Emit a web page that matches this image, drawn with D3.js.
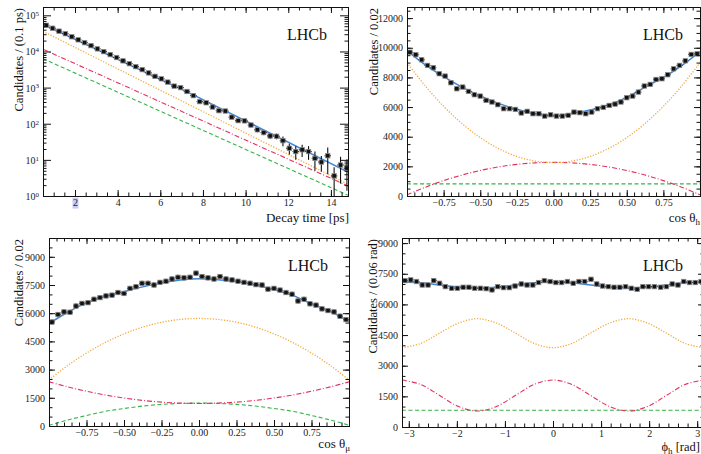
<!DOCTYPE html>
<html>
<head>
<meta charset="utf-8">
<script src="https://cdn.jsdelivr.net/npm/d3@7"></script>
<style>
  html, body { margin: 0; padding: 0; background: #fff; }
  svg { display: block; }
  svg text { font-family: "Liberation Serif", "Times New Roman", serif; }
</style>
</head>
<body>
<svg id="chart" width="701" height="454"></svg>
<script>
// ---------------- decay time ----------------
const timeCenters = [0.65, 0.95, 1.25, 1.55, 1.85, 2.15, 2.45, 2.75, 3.05, 3.35, 3.65, 3.95, 4.25, 4.55, 4.85, 5.15,
  5.45, 5.75, 6.05, 6.35, 6.65, 6.95, 7.25, 7.55, 7.85, 8.15, 8.45, 8.75, 9.05, 9.35, 9.65, 9.95,
  10.25, 10.55, 10.85, 11.15, 11.45, 11.75, 12.05, 12.35, 12.65, 12.95, 13.25, 13.55, 13.85, 14.15, 14.45, 14.75];
const timeCounts = [53000, 44000, 36500, 31000, 25500, 21000, 17500, 14500, 11800, 9900, 8200, 6800, 5500, 4600, 3800, 3150,
  2550, 2050, 1750, 1420, 1100, 1000, 780, 600, 410, 380, 290, 230, 225, 152, 122, 120,
  92, 68, 57, 46, 45, 34, 21, 17, 19, 17, 11, 8.7, 13, 3.6, 7.2, 5.9];
const timeErrors = [280, 250, 230, 210, 190, 175, 160, 145, 130, 120, 110, 100, 90, 82, 75, 68,
  61, 55, 50, 45, 40, 38, 34, 29, 24, 23, 20, 18, 18, 15, 13, 13,
  12, 10, 9, 8, 8, 10, 7, 7, 7, 7, 6, 4, 9, 2.6, 5, 4.5];
const timeFitKnots = [0.5, 7.5, 14.8];
const timeFitTotal = [57000, 650, 4.6];
const timeCompKnots = [0.5, 14.8];
const timeCompOrange = [36000, 2.1];
const timeCompRed = [11500, 1.9];
const timeCompGreen = [6300, 1.05];
const timeMajorTicks = [2, 4, 6, 8, 10, 12, 14];
const timeDecades = [1, 10, 100, 1000, 10000, 100000];

// ---------------- cos theta_h ----------------
const cosCenters = [-0.98, -0.94, -0.90, -0.86, -0.82, -0.78, -0.74, -0.70, -0.66, -0.62, -0.58, -0.54, -0.50,
  -0.46, -0.42, -0.38, -0.34, -0.30, -0.26, -0.22, -0.18, -0.14, -0.10, -0.06, -0.02,
  0.02, 0.06, 0.10, 0.14, 0.18, 0.22, 0.26, 0.30, 0.34, 0.38, 0.42, 0.46, 0.50,
  0.54, 0.58, 0.62, 0.66, 0.70, 0.74, 0.78, 0.82, 0.86, 0.90, 0.94, 0.98];
const cosHCounts = [9700, 9530, 9190, 8810, 8650, 8250, 8090, 7640, 7235, 7350, 7055, 6830, 6740,
  6450, 6340, 6160, 5890, 5890, 5840, 5600, 5710, 5550, 5550, 5390, 5480,
  5390, 5390, 5440, 5660, 5620, 5550, 5660, 5890, 5980, 6110, 6200, 6340, 6630,
  6740, 7010, 7420, 7530, 7860, 7910, 8180, 8580, 8810, 9120, 9550, 9590];
const cosKnots = [-1, -0.875, -0.75, -0.625, -0.5, -0.375, -0.25, -0.125, 0, 0.125, 0.25, 0.375, 0.5, 0.625, 0.75, 0.875, 1];
const cosHTotal = [9800, 8850, 8050, 7350, 6750, 6250, 5850, 5550, 5420, 5560, 5800, 6150, 6650, 7350, 8000, 8800, 9750];
const cosHOrange = [9000, 7420, 6050, 4890, 3940, 3200, 2670, 2355, 2250, 2355, 2670, 3200, 3940, 4890, 6050, 7420, 9000];
const cosHRed = [80, 593, 1038, 1414, 1722, 1962, 2133, 2236, 2270, 2236, 2133, 1962, 1722, 1414, 1038, 593, 80];
const cosHGreen = [820, 820, 820, 820, 820, 820, 820, 820, 820, 820, 820, 820, 820, 820, 820, 820, 820];

// ---------------- cos theta_mu ----------------
const cosMuCounts = [5530, 5930, 6070, 6050, 6380, 6520, 6560, 6740, 6830, 6920, 6960, 7100, 7050,
  7320, 7410, 7590, 7590, 7500, 7640, 7700, 7820, 7910, 7880, 7910, 8130,
  7950, 7880, 7820, 7950, 7820, 7770, 7700, 7640, 7590, 7520, 7500, 7280, 7320,
  7230, 7100, 7010, 6650, 6740, 6500, 6430, 6230, 6140, 6070, 5840, 5660];
const cosMuTotal = [5450, 6050, 6550, 6900, 7150, 7400, 7600, 7760, 7830, 7780, 7680, 7500, 7250, 6950, 6500, 6100, 5550];
const cosMuOrange = [2450, 3220, 3880, 4440, 4900, 5260, 5520, 5670, 5720, 5670, 5520, 5260, 4900, 4440, 3880, 3220, 2450];
const cosMuRed = [2350, 2080, 1850, 1650, 1490, 1360, 1270, 1220, 1200, 1220, 1270, 1360, 1490, 1650, 1850, 2080, 2350];
const cosMuGreen = [40, 320, 560, 780, 930, 1060, 1150, 1200, 1220, 1200, 1150, 1060, 930, 780, 560, 320, 40];

// ---------------- phi_h ----------------
const phiCenters = [-3.08, -2.96, -2.84, -2.72, -2.60, -2.48, -2.36, -2.24, -2.11, -1.99, -1.87, -1.75, -1.63,
  -1.51, -1.39, -1.27, -1.15, -1.03, -0.91, -0.79, -0.66, -0.54, -0.42, -0.30, -0.18, -0.06,
  0.06, 0.18, 0.30, 0.42, 0.54, 0.66, 0.79, 0.91, 1.03, 1.15, 1.27, 1.39, 1.51,
  1.63, 1.75, 1.87, 1.99, 2.11, 2.24, 2.36, 2.48, 2.60, 2.72, 2.84, 2.96, 3.08];
const phiCounts = [7165, 7200, 7120, 6950, 6950, 7165, 7035, 6870, 6790, 6790, 6840, 6840, 6790,
  6790, 6770, 6710, 6870, 6820, 6820, 6900, 7000, 6950, 6950, 7070, 7165, 7120,
  7070, 7070, 7120, 7035, 7120, 7120, 7230, 7000, 6900, 6870, 6840, 6840, 6870,
  6790, 6740, 6870, 6870, 6870, 6840, 6870, 7000, 6950, 7120, 7070, 7070, 7120];
const phiKnots = [-3.1416, -2.7489, -2.3562, -1.9635, -1.5708, -1.1781, -0.7854, -0.3927, 0,
  0.3927, 0.7854, 1.1781, 1.5708, 1.9635, 2.3562, 2.7489, 3.1416];
const phiTotal = [7100, 7060, 6950, 6840, 6800, 6840, 6950, 7060, 7100, 7060, 6950, 6840, 6800, 6840, 6950, 7060, 7100];
const phiOrange = [3880, 4090, 4600, 5090, 5300, 5090, 4600, 4090, 3880, 4090, 4600, 5090, 5300, 5090, 4600, 4090, 3880];
const phiRed = [2300, 2080, 1540, 1000, 780, 1000, 1540, 2080, 2300, 2080, 1540, 1000, 780, 1000, 1540, 2080, 2300];
const phiGreen = [820, 820, 820, 820, 820, 820, 820, 820, 820, 820, 820, 820, 820, 820, 820, 820, 820];

const COLORS = { total: "#3d86d8", orange: "#f2a93b", red: "#e2315d", green: "#35b448" };
const SERIF = "'Liberation Serif', 'Times New Roman', serif";

const svg = d3.select("#chart");
let clipId = 0;

function drawPanel(cfg) {
  const g = svg.append("g");
  const x = d3.scaleLinear().domain(cfg.xDomain).range([cfg.left, cfg.right]);
  const y = (cfg.log ? d3.scaleLog() : d3.scaleLinear()).domain(cfg.yDomain).range([cfg.bottom, cfg.top]);

  const cid = "clip" + (clipId++);
  g.append("clipPath").attr("id", cid).append("rect")
    .attr("x", cfg.left).attr("y", cfg.top)
    .attr("width", cfg.right - cfg.left).attr("height", cfg.bottom - cfg.top);
  const plot = g.append("g").attr("clip-path", `url(#${cid})`);

  // model curves
  const line = d3.line().x(d => x(d[0])).y(d => y(d[1]))
    .curve(cfg.log ? d3.curveLinear : d3.curveCatmullRom.alpha(0.5));
  const comps = [
    { v: cfg.green, knots: cfg.compKnots || cfg.knots, color: COLORS.green, dash: "4,2.5", w: 1.1 },
    { v: cfg.red, knots: cfg.compKnots || cfg.knots, color: COLORS.red, dash: "5,2,1,2", w: 1.1 },
    { v: cfg.orange, knots: cfg.compKnots || cfg.knots, color: COLORS.orange, dash: "1.2,1.6", w: 1.3 },
    { v: cfg.total, knots: cfg.knots, color: COLORS.total, dash: null, w: 1.5 }
  ];
  comps.forEach(c => {
    plot.append("path")
      .attr("d", line(c.knots.map((k, i) => [k, c.v[i]])))
      .attr("fill", "none").attr("stroke", c.color).attr("stroke-width", c.w)
      .attr("stroke-dasharray", c.dash);
  });

  // data points with error bars
  const pts = plot.append("g");
  const lo = cfg.yDomain[0];
  cfg.centers.forEach((c, i) => {
    const v = cfg.counts[i];
    const e = cfg.errors ? cfg.errors[i] : cfg.err;
    const px = x(c), py = y(v);
    pts.append("line").attr("x1", px).attr("x2", px)
      .attr("y1", y(Math.max(v - e, cfg.log ? lo * 0.5 : 0))).attr("y2", y(v + e))
      .attr("stroke", "#111").attr("stroke-width", 1.1);
    pts.append("line").attr("x1", x(c - cfg.halfWidth)).attr("x2", x(c + cfg.halfWidth))
      .attr("y1", py).attr("y2", py)
      .attr("stroke", "#111").attr("stroke-width", 1.1);
    pts.append("rect").attr("x", px - 2.2).attr("y", py - 2.2).attr("width", 4.4).attr("height", 4.4)
      .attr("fill", "#111").attr("stroke", "#8a8a8a").attr("stroke-width", 0.8);
  });

  // axes: ticks point inward on all four sides
  const MAJ = 6, MIN = 3.5;
  const tickStyle = sel => {
    sel.attr("font-family", null).style("font-family", SERIF);
    sel.select(".domain").remove();
    sel.selectAll("line").attr("stroke", "#111");
    sel.selectAll("text").style("font-family", SERIF)
      .attr("font-size", 10).attr("fill", "#222");
  };
  const add = (axis, tx, ty) => g.append("g").attr("transform", `translate(${tx},${ty})`).call(axis).call(tickStyle);

  add(d3.axisBottom(x).tickValues(cfg.xMinor).tickSize(-MIN).tickFormat(""), 0, cfg.bottom);
  add(d3.axisTop(x).tickValues(cfg.xMinor).tickSize(-MIN).tickFormat(""), 0, cfg.top);
  add(d3.axisTop(x).tickValues(cfg.xMajor).tickSize(-MAJ).tickFormat(""), 0, cfg.top);
  const xb = add(d3.axisBottom(x).tickValues(cfg.xMajor).tickSizeInner(-MAJ).tickSizeOuter(0)
    .tickPadding(3).tickFormat(cfg.xFormat), 0, cfg.bottom);

  add(d3.axisLeft(y).tickValues(cfg.yMinor).tickSize(-MIN).tickFormat(""), cfg.left, 0);
  add(d3.axisRight(y).tickValues(cfg.yMinor).tickSize(-MIN).tickFormat(""), cfg.right, 0);
  add(d3.axisRight(y).tickValues(cfg.yMajor).tickSize(-(cfg.log ? 8 : MAJ)).tickFormat(""), cfg.right, 0);
  const yl = add(d3.axisLeft(y).tickValues(cfg.yMajor).tickSizeInner(-(cfg.log ? 8 : MAJ)).tickSizeOuter(0)
    .tickPadding(4).tickFormat(cfg.log ? "" : cfg.yFormat), cfg.left, 0);

  if (cfg.log) {
    // powers of ten with superscript exponents
    yl.selectAll(".tick").each(function (d) {
      const t = d3.select(this).select("text").attr("dy", "0.35em");
      t.append("tspan").text("10");
      t.append("tspan").attr("dy", "-0.45em").attr("font-size", 7).text(Math.round(Math.log10(d)));
    });
  }

  if (cfg.highlightTick !== undefined) {
    xb.selectAll(".tick").filter(d => d === cfg.highlightTick).each(function () {
      const tk = d3.select(this);
      const bb = tk.select("text").node().getBBox();
      tk.insert("rect", "text").attr("x", bb.x - 0.5).attr("y", bb.y + 0.5)
        .attr("width", bb.width + 1).attr("height", bb.height).attr("fill", "#c9cdf3");
    });
  }

  // frame
  g.append("rect")
    .attr("x", cfg.left + 0.5).attr("y", cfg.top + 0.5)
    .attr("width", cfg.right - cfg.left).attr("height", cfg.bottom - cfg.top)
    .attr("fill", "none").attr("stroke", "#111").attr("stroke-width", 1);

  // titles
  const xt = g.append("text").attr("x", cfg.xTitleX).attr("y", cfg.bottom + cfg.xTitleDy)
    .attr("text-anchor", "end").attr("font-size", cfg.xTitleSize || 13).attr("fill", "#111");
  cfg.xTitle.forEach(p => {
    const s = xt.append("tspan").text(p.t);
    if (p.sub) s.attr("font-size", 9).attr("dy", 2.5);
    if (p.after) s.attr("dy", -2.5);
  });
  g.append("text")
    .attr("transform", `translate(${cfg.yTitleX},${cfg.top + 1}) rotate(-90)`)
    .attr("text-anchor", "end").attr("font-size", 12.5).attr("fill", "#111")
    .text(cfg.yTitle);

  g.append("text").attr("x", cfg.lhcbX).attr("y", cfg.top + 33)
    .attr("text-anchor", "end").attr("font-size", 16).attr("fill", "#111").text("LHCb");
}

function range(a, b, s) { return d3.range(Math.round((b - a) / s) + 1).map(i => +(a + i * s).toFixed(6)); }
const logMinor = [];
timeDecades.forEach(d => { for (let k = 2; k <= 9; k++) logMinor.push(d * k); });

drawPanel({
  left: 43, right: 348, top: 7, bottom: 196,
  xDomain: [0.5, 14.8], yDomain: [1, 170000], log: true,
  xMajor: timeMajorTicks, xMinor: range(0.5, 14.5, 0.5), xFormat: d3.format("d"),
  yMajor: timeDecades, yMinor: logMinor.filter(v => v < 170000),
  centers: timeCenters, counts: timeCounts, errors: timeErrors, halfWidth: 0.15,
  knots: timeFitKnots, compKnots: timeCompKnots,
  total: timeFitTotal, orange: timeCompOrange, red: timeCompRed, green: timeCompGreen,
  xTitle: [{ t: "Decay time [ps]" }], xTitleX: 349, xTitleDy: 26,
  yTitle: "Candidates / (0.1 ps)", yTitleX: 23, lhcbX: 327,
  highlightTick: 2
});

drawPanel({
  left: 407, right: 700, top: 7, bottom: 196,
  xDomain: [-1, 1], yDomain: [0, 12750],
  xMajor: [-0.75, -0.5, -0.25, 0, 0.25, 0.5, 0.75], xMinor: range(-0.95, 0.95, 0.05), xFormat: d3.format(".2f"),
  yMajor: [0, 2000, 4000, 6000, 8000, 10000, 12000], yMinor: range(0, 12500, 500), yFormat: d3.format("d"),
  centers: cosCenters, counts: cosHCounts, err: 130, halfWidth: 0.02,
  knots: cosKnots, total: cosHTotal, orange: cosHOrange, red: cosHRed, green: cosHGreen,
  xTitle: [{ t: "cos θ" }, { t: "h", sub: true }], xTitleX: 700, xTitleDy: 26,
  yTitle: "Candidates / 0.02", yTitleX: 378, lhcbX: 683
});

drawPanel({
  left: 49, right: 349, top: 238, bottom: 426,
  xDomain: [-1, 1], yDomain: [0, 10000],
  xMajor: [-0.75, -0.5, -0.25, 0, 0.25, 0.5, 0.75], xMinor: range(-0.95, 0.95, 0.05), xFormat: d3.format(".2f"),
  yMajor: [0, 1500, 3000, 4500, 6000, 7500, 9000], yMinor: range(0, 9500, 500), yFormat: d3.format("d"),
  centers: cosCenters, counts: cosMuCounts, err: 130, halfWidth: 0.02,
  knots: cosKnots, total: cosMuTotal, orange: cosMuOrange, red: cosMuRed, green: cosMuGreen,
  xTitle: [{ t: "cos θ" }, { t: "μ", sub: true }], xTitleX: 350, xTitleDy: 22,
  yTitle: "Candidates / 0.02", yTitleX: 23, lhcbX: 328
});

drawPanel({
  left: 402, right: 704, top: 238, bottom: 427,
  xDomain: [-Math.PI, Math.PI], yDomain: [0, 9250],
  xMajor: [-3, -2, -1, 0, 1, 2, 3], xMinor: range(-3, 3, 0.2), xFormat: d3.format("d"),
  yMajor: [0, 1500, 3000, 4500, 6000, 7500, 9000], yMinor: range(0, 9000, 500), yFormat: d3.format("d"),
  centers: phiCenters, counts: phiCounts, err: 110, halfWidth: 0.06,
  knots: phiKnots, total: phiTotal, orange: phiOrange, red: phiRed, green: phiGreen,
  xTitle: [{ t: "ϕ" }, { t: "h", sub: true }, { t: " [rad]", after: true }], xTitleX: 700, xTitleDy: 24,
  xTitleSize: 12.5,
  yTitle: "Candidates / (0.06 rad)", yTitleX: 377, lhcbX: 683
});
</script>
</body>
</html>
